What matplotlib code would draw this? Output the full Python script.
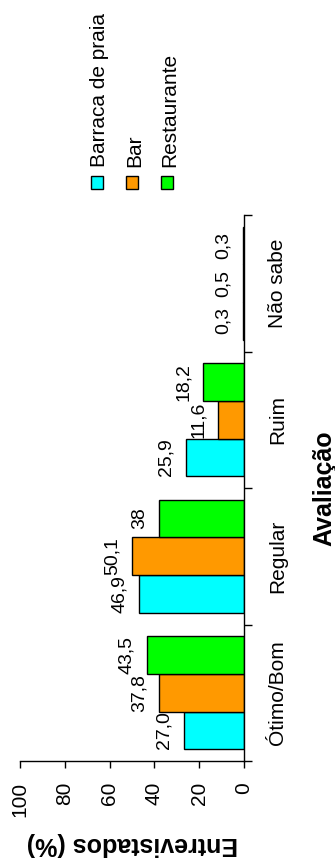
import matplotlib
matplotlib.use("Agg")
import matplotlib.pyplot as plt
from matplotlib.patches import Rectangle

plt.rcParams['font.family'] = ['Liberation Sans', 'DejaVu Sans']

categorias = ["Ótimo/Bom", "Regular", "Ruim", "Não sabe"]
series = ["Barraca de praia", "Bar", "Restaurante"]
cores = ["#00FFFF", "#FF9900", "#00FF00"]

# percentuais como aparecem nos rotulos
rotulos_barraca = ["27,0", "46,9", "25,9", "0,3"]
rotulos_bar = ["37,8", "50,1", "11,6", "0,5"]
rotulos_restaurante = ["43,5", "38", "18,2", "0,3"]
rotulos = [rotulos_barraca, rotulos_bar, rotulos_restaurante]

eixo_valores = [0, 20, 40, 60, 80, 100]

W, H = 335, 865
fig = plt.figure(figsize=(W / 100, H / 100), dpi=100)
ax = fig.add_axes([20 / W, 104 / H, 224 / W, 546 / H])

largura = 0.276
pos = list(range(len(categorias)))
for k, (serie, cor, rot) in enumerate(zip(series, cores, rotulos)):
    valores = [float(s.replace(",", ".")) for s in rot]
    y = [p + (k - 1) * largura for p in pos]
    ax.barh(y, valores, height=largura, color=cor, edgecolor="black", linewidth=1.0)
    for yi, v, s in zip(y, valores, rot):
        ax.annotate(s, xy=(v, yi), xytext=(-8, 0), textcoords="offset points",
                    rotation=90, ha="right", va="center", fontsize=14)

ax.set_xlim(100, 0)
ax.set_ylim(-0.5, len(categorias) - 0.5)

for lado in ["left", "top"]:
    ax.spines[lado].set_visible(False)
for lado in ["bottom", "right"]:
    ax.spines[lado].set_linewidth(1.0)

ax.set_xticks(eixo_valores)
ax.set_xticklabels([str(v) for v in eixo_valores])
ax.tick_params(axis="x", labelrotation=90, length=5, width=1.0, pad=10, labelsize=15)

ax.yaxis.set_ticks_position("right")
ax.set_yticks(pos)
ax.set_yticklabels(categorias)
ax.set_yticks([p - 0.5 for p in pos] + [len(categorias) - 0.5], minor=True)
ax.tick_params(axis="y", which="major", length=0, pad=17.5, labelsize=15)
ax.tick_params(axis="y", which="minor", length=6, width=1.0)
for t in ax.get_yticklabels():
    t.set_rotation(90)
    t.set_va("center")

ax.set_xlabel("Entrevistados (%)", rotation=180, fontsize=18, fontweight="bold", labelpad=11)
ax.yaxis.set_label_position("right")
ax.set_ylabel("Avaliação", rotation=90, fontsize=18, fontweight="bold", labelpad=18)

# legenda em colunas, texto na vertical
def fx(x):
    return x / W

def fy(y):
    return 1 - y / H

for i, (serie, cor) in enumerate(zip(series, cores)):
    x0 = 91 + i * 35
    fig.add_artist(Rectangle((fx(x0), fy(189)), 12 / W, 13 / H, transform=fig.transFigure,
                             facecolor=cor, edgecolor="black", linewidth=1.0))
    fig.text(fx(x0 + 14), fy(167), serie, rotation=90, rotation_mode="anchor",
             ha="left", va="baseline", fontsize=15)

fig.savefig("out.png", dpi=100)
